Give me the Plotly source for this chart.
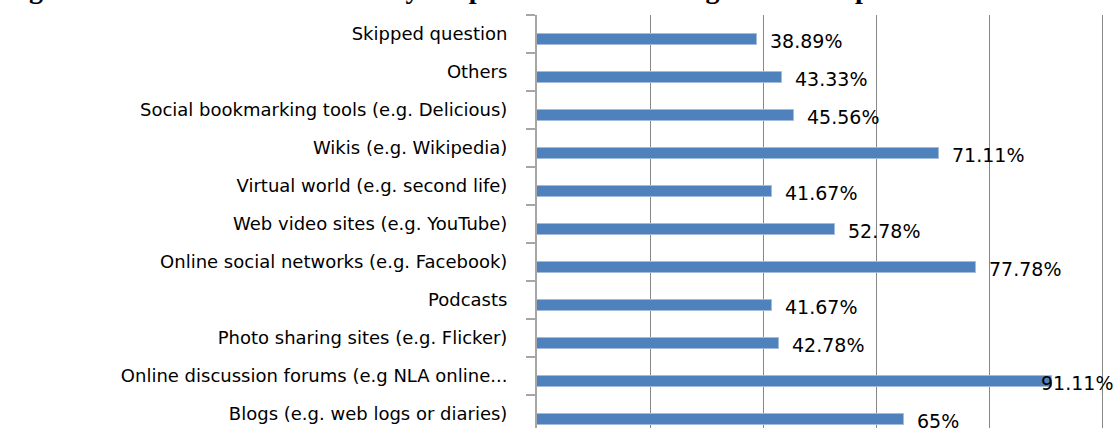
import plotly.graph_objects as go

# Data (bottom to top)
categories = [
    "Blogs (e.g. web logs or diaries)",
    "Online discussion forums (e.g NLA online...",
    "Photo sharing sites (e.g. Flicker)",
    "Podcasts",
    "Online social networks (e.g. Facebook)",
    "Web video sites (e.g. YouTube)",
    "Virtual world (e.g. second life)",
    "Wikis (e.g. Wikipedia)",
    "Social bookmarking tools (e.g. Delicious)",
    "Others",
    "Skipped question",
]
values = [65, 91.11, 42.78, 41.67, 77.78, 52.78, 41.67, 71.11, 45.56, 43.33, 38.89]
labels = ["65%", "91.11%", "42.78%", "41.67%", "77.78%", "52.78%", "41.67%",
          "71.11%", "45.56%", "43.33%", "38.89%"]
x_ticks = [0, 20, 40, 60, 80, 100]
title_text = "Figure 4: Social media used mostly for professional learning and development"

W, H = 1118, 428
ML, MT = 537, 15
X_MAX = 102.83
px_per_unit = (W - ML) / X_MAX

pos = list(range(len(categories)))

fig = go.Figure()
fig.add_trace(go.Bar(
    y=pos, x=values, orientation="h",
    width=0.28, offset=-0.285,
    marker=dict(color="#4F81BD", line=dict(color="#A3BCDC", width=1)),
    hoverinfo="x+y", showlegend=False,
))

annotations = []
font_lbl = dict(family="DejaVu Sans", size=19, color="#000000")
for p, v, t in zip(pos, values, labels):
    est_w = len(t) * 11.5
    if ML + v * px_per_unit + 11 + est_w > W:
        annotations.append(dict(xref="paper", yref="y", x=1, y=p, text=t,
                                xanchor="right", yanchor="middle", xshift=-3, yshift=-7,
                                showarrow=False, font=font_lbl))
    else:
        annotations.append(dict(xref="x", yref="y", x=v, y=p, text=t,
                                xanchor="left", yanchor="middle", xshift=11, yshift=-7,
                                showarrow=False, font=font_lbl))

# cropped title at the very top
annotations.append(dict(xref="paper", yref="paper", x=0, y=1, text="<b>" + title_text + "</b>",
                        xanchor="left", yanchor="bottom", xshift=-ML + 2, yshift=9,
                        showarrow=False,
                        font=dict(family="Liberation Serif", size=28, color="#000000")))

fig.update_layout(
    width=W, height=H,
    margin=dict(l=ML, r=0, t=MT, b=0, pad=0),
    paper_bgcolor="white", plot_bgcolor="white",
    bargap=0,
    annotations=annotations,
    xaxis=dict(range=[0, X_MAX], tickmode="array", tickvals=x_ticks,
               showticklabels=False, ticks="", showgrid=True,
               gridcolor="#878787", gridwidth=1, zeroline=False, showline=False),
    yaxis=dict(range=[-0.368, 10.5], tickmode="array", tickvals=pos, ticktext=categories,
               ticks="", showgrid=False, zeroline=False,
               showline=True, linecolor="#A6A6A6", linewidth=2,
               ticklabelstandoff=24,
               tickfont=dict(family="DejaVu Sans", size=18, color="#000000"),
               minor=dict(tickmode="array", tickvals=[k + 0.5 for k in range(-1, 11)],
                          ticks="outside", ticklen=9, tickcolor="#A6A6A6", tickwidth=1.5,
                          showgrid=False)),
)

fig.write_html("out.html", config={"displayModeBar": False},
               post_script="document.body.style.margin='0px';document.body.style.overflow='hidden';")
